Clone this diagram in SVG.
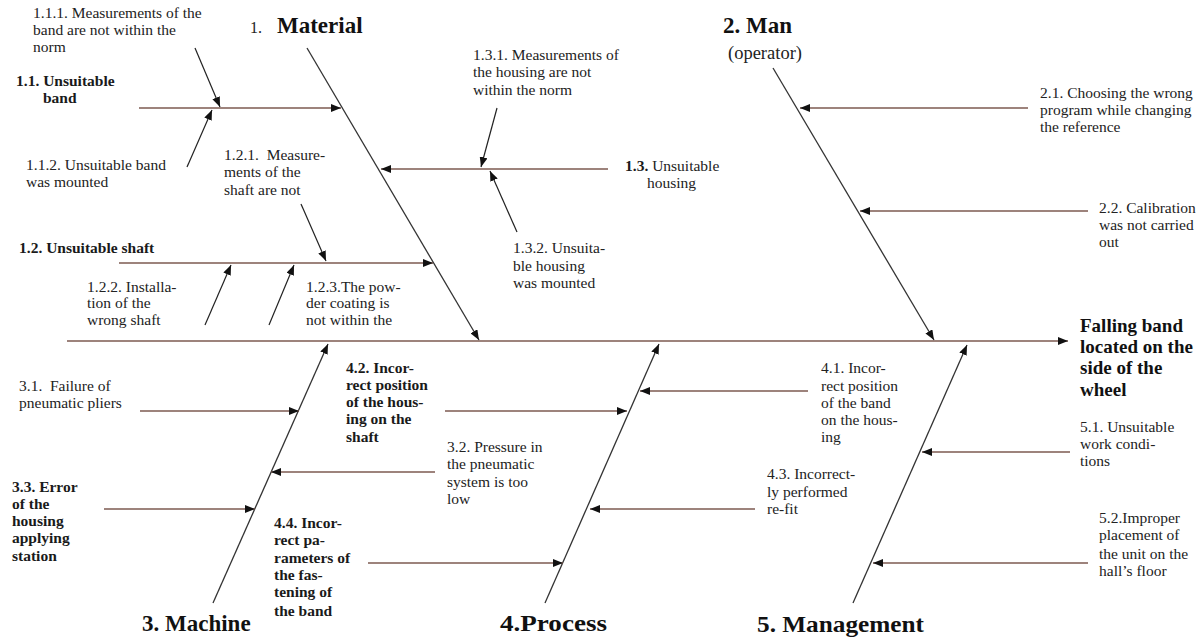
<svg xmlns="http://www.w3.org/2000/svg" width="1202" height="642" viewBox="0 0 1202 642">
<defs>
<marker id="ah" markerUnits="userSpaceOnUse" markerWidth="10" markerHeight="8" refX="10" refY="4" orient="auto">
<path d="M0,0 L10,4 L0,8 z" fill="#111"/>
</marker>
<style>
.t{font-family:"Liberation Serif","Times New Roman",serif;font-size:15.5px;fill:#222;white-space:pre}
.b{font-family:"Liberation Serif","Times New Roman",serif;font-size:15.5px;font-weight:bold;fill:#1a1a1a}
.h{font-family:"Liberation Serif","Times New Roman",serif;font-size:23px;font-weight:bold;fill:#111}
.e{font-family:"Liberation Serif","Times New Roman",serif;font-size:19px;font-weight:bold;fill:#111}
.bone{stroke:#333;stroke-width:1.3;fill:none}
.br{stroke:#7d5a50;stroke-width:1.6;fill:none}
.sub{stroke:#222;stroke-width:1.2;fill:none}
</style>
</defs>
<rect width="1202" height="642" fill="#fff"/>

<g id="connectors">
<line class="br" x1="67" y1="341" x2="1068" y2="341" marker-end="url(#ah)"/>
<line class="bone" x1="307" y1="48" x2="479" y2="340" marker-end="url(#ah)"/>
<line class="bone" x1="773" y1="68" x2="934" y2="340" marker-end="url(#ah)"/>
<line class="bone" x1="213" y1="603" x2="328" y2="344" marker-end="url(#ah)"/>
<line class="bone" x1="545" y1="603" x2="659" y2="344" marker-end="url(#ah)"/>
<line class="bone" x1="853" y1="603" x2="967" y2="345" marker-end="url(#ah)"/>

<line class="br" x1="139" y1="108" x2="341" y2="108" marker-end="url(#ah)"/>
<line class="sub" x1="195" y1="48" x2="220" y2="107" marker-end="url(#ah)"/>
<line class="sub" x1="187" y1="167" x2="212" y2="110" marker-end="url(#ah)"/>
<line class="br" x1="608" y1="169" x2="381" y2="169" marker-end="url(#ah)"/>
<line class="sub" x1="497" y1="108" x2="481" y2="167" marker-end="url(#ah)"/>
<line class="sub" x1="517" y1="232" x2="490" y2="171" marker-end="url(#ah)"/>
<line class="br" x1="119" y1="263" x2="433" y2="263" marker-end="url(#ah)"/>
<line class="sub" x1="301" y1="204" x2="326" y2="261" marker-end="url(#ah)"/>
<line class="sub" x1="205" y1="325" x2="231" y2="265" marker-end="url(#ah)"/>
<line class="sub" x1="269" y1="325" x2="294" y2="265" marker-end="url(#ah)"/>

<line class="br" x1="1028" y1="108" x2="800" y2="108" marker-end="url(#ah)"/>
<line class="br" x1="1088" y1="211" x2="860" y2="211" marker-end="url(#ah)"/>

<line class="br" x1="140" y1="411" x2="299" y2="411" marker-end="url(#ah)"/>
<line class="br" x1="435" y1="472" x2="271" y2="472" marker-end="url(#ah)"/>
<line class="br" x1="104" y1="509" x2="255" y2="509" marker-end="url(#ah)"/>

<line class="br" x1="445" y1="411" x2="627" y2="411" marker-end="url(#ah)"/>
<line class="br" x1="808" y1="391" x2="640" y2="391" marker-end="url(#ah)"/>
<line class="br" x1="755" y1="509" x2="590" y2="509" marker-end="url(#ah)"/>
<line class="br" x1="368" y1="563" x2="563" y2="563" marker-end="url(#ah)"/>

<line class="br" x1="1070" y1="452" x2="922" y2="452" marker-end="url(#ah)"/>
<line class="br" x1="1088" y1="563" x2="873" y2="563" marker-end="url(#ah)"/>
</g>

<g id="material">
<text y="33"><tspan x="250" class="t" style="font-size:16px">1.</tspan><tspan x="277" class="h">Material</tspan></text>
</g>
<g id="man">
<text class="h" x="723" y="33">2. Man</text>
<text class="t" x="728" y="59" style="font-size:18.5px">(operator)</text>
</g>
<g id="machine"><text class="h" x="142" y="631">3. Machine</text></g>
<g id="process"><text class="h" x="500" y="631" textLength="107" lengthAdjust="spacingAndGlyphs">4.Process</text></g>
<g id="management"><text class="h" x="757" y="632" textLength="167" lengthAdjust="spacingAndGlyphs">5. Management</text></g>

<g id="effect">
<text class="e" x="1080" y="332">Falling band</text>
<text class="e" x="1080" y="353">located on the</text>
<text class="e" x="1080" y="374">side of the</text>
<text class="e" x="1080" y="396">wheel</text>
</g>

<g id="c111">
<text class="t" x="33" y="18">1.1.1. Measurements of the</text>
<text class="t" x="33" y="35">band are not within the</text>
<text class="t" x="33" y="52">norm</text>
</g>
<g id="c11">
<text class="b" x="16" y="86">1.1. Unsuitable</text>
<text class="b" x="43" y="103">band</text>
</g>
<g id="c112">
<text class="t" x="26" y="170">1.1.2. Unsuitable band</text>
<text class="t" x="26" y="187">was mounted</text>
</g>
<g id="c121">
<text class="t" x="224" y="160" xml:space="preserve">1.2.1.  Measure-</text>
<text class="t" x="224" y="177">ments of the</text>
<text class="t" x="224" y="195">shaft are not</text>
</g>
<g id="c131">
<text class="t" x="473" y="60">1.3.1. Measurements of</text>
<text class="t" x="473" y="77">the housing are not</text>
<text class="t" x="473" y="95">within the norm</text>
</g>
<g id="c13">
<text x="625" y="171"><tspan class="b">1.3.</tspan><tspan class="t"> Unsuitable</tspan></text>
<text class="t" x="647" y="188">housing</text>
</g>
<g id="c132">
<text class="t" x="513" y="253">1.3.2. Unsuita-</text>
<text class="t" x="513" y="271">ble housing</text>
<text class="t" x="513" y="288">was mounted</text>
</g>
<g id="c12">
<text class="b" x="19" y="253">1.2. Unsuitable shaft</text>
</g>
<g id="c122">
<text class="t" x="87" y="292">1.2.2. Installa-</text>
<text class="t" x="87" y="308">tion of the</text>
<text class="t" x="87" y="325">wrong shaft</text>
</g>
<g id="c123">
<text class="t" x="306" y="292">1.2.3.The pow-</text>
<text class="t" x="306" y="308">der coating is</text>
<text class="t" x="306" y="325">not within the</text>
</g>

<g id="c21">
<text class="t" x="1040" y="98">2.1. Choosing the wrong</text>
<text class="t" x="1040" y="115">program while changing</text>
<text class="t" x="1040" y="132">the reference</text>
</g>
<g id="c22">
<text class="t" x="1099" y="213">2.2. Calibration</text>
<text class="t" x="1099" y="230">was not carried</text>
<text class="t" x="1099" y="247">out</text>
</g>

<g id="c31">
<text class="t" x="19" y="391" xml:space="preserve">3.1.  Failure of</text>
<text class="t" x="19" y="408">pneumatic pliers</text>
</g>
<g id="c32">
<text class="t" x="447" y="452">3.2. Pressure in</text>
<text class="t" x="447" y="469">the pneumatic</text>
<text class="t" x="447" y="487">system is too</text>
<text class="t" x="447" y="504">low</text>
</g>
<g id="c33">
<text class="b" x="12" y="492">3.3. Error</text>
<text class="b" x="12" y="509">of the</text>
<text class="b" x="12" y="526">housing</text>
<text class="b" x="12" y="543">applying</text>
<text class="b" x="12" y="561">station</text>
</g>

<g id="c42">
<text class="b" x="346" y="373">4.2. Incor-</text>
<text class="b" x="346" y="390">rect position</text>
<text class="b" x="346" y="407">of the hous-</text>
<text class="b" x="346" y="424">ing on the</text>
<text class="b" x="346" y="442">shaft</text>
</g>
<g id="c44">
<text class="b" x="274" y="528">4.4. Incor-</text>
<text class="b" x="274" y="545">rect pa-</text>
<text class="b" x="274" y="563">rameters of</text>
<text class="b" x="274" y="580">the fas-</text>
<text class="b" x="274" y="597">tening of</text>
<text class="b" x="274" y="616">the band</text>
</g>
<g id="c41">
<text class="t" x="821" y="373">4.1. Incor-</text>
<text class="t" x="821" y="391">rect position</text>
<text class="t" x="821" y="408">of the band</text>
<text class="t" x="821" y="425">on the hous-</text>
<text class="t" x="821" y="442">ing</text>
</g>
<g id="c43">
<text class="t" x="767" y="479">4.3. Incorrect-</text>
<text class="t" x="767" y="497">ly performed</text>
<text class="t" x="767" y="514">re-fit</text>
</g>

<g id="c51">
<text class="t" x="1080" y="432">5.1. Unsuitable</text>
<text class="t" x="1080" y="449">work condi-</text>
<text class="t" x="1080" y="466">tions</text>
</g>
<g id="c52">
<text class="t" x="1099" y="523">5.2.Improper</text>
<text class="t" x="1099" y="540">placement of</text>
<text class="t" x="1099" y="559">the unit on the</text>
<text class="t" x="1099" y="576">hall’s floor</text>
</g>
</svg>
